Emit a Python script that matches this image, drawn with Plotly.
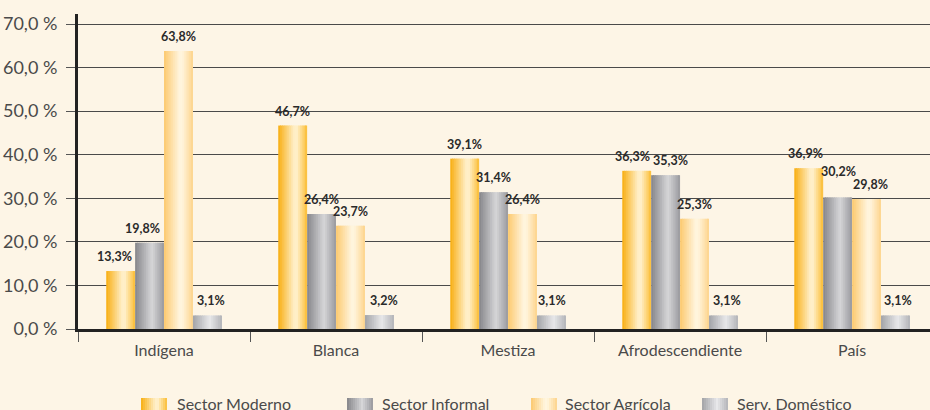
import plotly.graph_objects as go

# --- data -------------------------------------------------------------------
categorias = ["Indígena", "Blanca", "Mestiza", "Afrodescendiente", "País"]
sector_moderno = [13.3, 46.7, 39.1, 36.3, 36.9]
sector_informal = [19.8, 26.4, 31.4, 35.3, 30.2]
sector_agricola = [63.8, 23.7, 26.4, 25.3, 29.8]
serv_domestico = [3.1, 3.2, 3.1, 3.1, 3.1]
nombres_series = ["Sector Moderno", "Sector Informal", "Sector Agrícola", "Serv. Doméstico"]
y_ticks = [0, 10, 20, 30, 40, 50, 60, 70]
y_tick_text = ["0,0 %", "10,0 %", "20,0 %", "30,0 %", "40,0 %", "50,0 %", "60,0 %", "70,0 %"]

valores = [sector_moderno, sector_informal, sector_agricola, serv_domestico]

# --- styling ----------------------------------------------------------------
# horizontal gradient stops (position across the bar, colour) for each series
gradientes = [
    [(0.0, "#F8AE12"), (0.55, "#FFEFC8"), (0.65, "#FFEFC8"), (1.0, "#FBBE36")],
    [(0.0, "#86868A"), (0.58, "#D6D6D8"), (1.0, "#9A9A9E")],
    [(0.0, "#FCC96F"), (0.55, "#FFF6E0"), (0.65, "#FFF3D8"), (1.0, "#FDD48C")],
    [(0.0, "#A2A3A7"), (0.58, "#E8E8EA"), (1.0, "#B3B4B8")],
]

# small pixel nudges (dx, dy) that keep neighbouring value labels apart
ajuste_etiquetas = {
    (0, 0): (-6, 0), (1, 0): (-7, 0), (3, 0): (4, 0),
    (3, 1): (5, 0), (3, 2): (1, 0), (3, 3): (4, 0),
    (0, 3): (-4, 0), (1, 3): (5, 0), (3, 4): (3, 0),
    (0, 4): (-3, 0), (1, 4): (1, 11), (2, 4): (4, 0),
}

FONDO = "#FDF5E6"
FUENTE = "Lato"
W, H = 930, 410
M_L, M_R, M_T, M_B = 78, 0, 14, 81
X_RANGE = [-0.5, 4.453]
Y_RANGE = [0, 72.3]
ANCHO_BARRA = 0.168          # width of one bar, in category units
N_FRANJAS = 16               # slices used to paint the gradient

plot_w = W - M_L - M_R
plot_h = H - M_T - M_B
px_por_cat = plot_w / (X_RANGE[1] - X_RANGE[0])


def hex_rgb(h):
    h = h.lstrip("#")
    return tuple(int(h[i:i + 2], 16) for i in (0, 2, 4))


def color_en(stops, t):
    for (t0, c0), (t1, c1) in zip(stops, stops[1:]):
        if t0 <= t <= t1:
            f = 0 if t1 == t0 else (t - t0) / (t1 - t0)
            a, b = hex_rgb(c0), hex_rgb(c1)
            r = [round(a[i] + (b[i] - a[i]) * f) for i in range(3)]
            return "rgb({},{},{})".format(*r)
    return stops[-1][1]


def etiqueta(v):
    return f"{v:.1f}%".replace(".", ",")


fig = go.Figure()

inicio_grupo = -2 * ANCHO_BARRA
anotaciones = []

for i, (serie, stops) in enumerate(zip(valores, gradientes)):
    offset = inicio_grupo + i * ANCHO_BARRA
    franja = ANCHO_BARRA / N_FRANJAS
    for k in range(N_FRANJAS):
        t = (k + 0.5) / N_FRANJAS
        ancho = franja * (1.6 if k < N_FRANJAS - 1 else 1.0)
        fig.add_trace(go.Bar(
            x=categorias, y=serie,
            offset=offset + k * franja, width=ancho,
            marker=dict(color=color_en(stops, t), line=dict(width=0)),
            showlegend=False, hoverinfo="skip",
            name=nombres_series[i],
        ))
    centro_px = (offset + ANCHO_BARRA / 2) * px_por_cat
    for j, (c, v) in enumerate(zip(categorias, serie)):
        dx, dy = ajuste_etiquetas.get((i, j), (0, 0))
        anotaciones.append(dict(
            x=c, y=v, xref="x", yref="y", text=etiqueta(v),
            showarrow=False, xanchor="center", yanchor="bottom",
            xshift=centro_px + dx, yshift=5 + dy,
            font=dict(family=FUENTE, size=12.5, color="#2A2A2A", weight="bold"),
        ))

# --- legend drawn below the axis with gradient swatches ----------------------
def px_a_paper_x(px):
    return (px - M_L) / plot_w


def px_a_paper_y(py):
    return (H - M_B - py) / plot_h


leyenda_swatch_x = [141, 347, 531, 702]
leyenda_texto_x = [175, 380, 563, 735]
shapes = []
for i, stops in enumerate(gradientes):
    x0 = leyenda_swatch_x[i]
    n = 13
    for k in range(n):
        t = (k + 0.5) / n
        a = x0 + 26 * k / n
        b = x0 + 26 * (k + 1) / n + (0.8 if k < n - 1 else 0)
        shapes.append(dict(
            type="rect", xref="paper", yref="paper",
            x0=px_a_paper_x(a), x1=px_a_paper_x(b),
            y0=px_a_paper_y(398), y1=px_a_paper_y(412),
            fillcolor=color_en(stops, t), line=dict(width=0), layer="above",
        ))
    anotaciones.append(dict(
        x=px_a_paper_x(leyenda_texto_x[i]), y=px_a_paper_y(392),
        xref="paper", yref="paper", text=nombres_series[i],
        showarrow=False, xanchor="left", yanchor="top",
        font=dict(family=FUENTE, size=16, color="#4A4A4A"),
    ))

fig.update_layout(
    width=W, height=H, autosize=False,
    margin=dict(l=M_L, r=M_R, t=M_T, b=M_B, pad=0),
    paper_bgcolor=FONDO, plot_bgcolor=FONDO,
    barmode="overlay", showlegend=False,
    font=dict(family=FUENTE, color="#4A4A4A"),
    annotations=anotaciones, shapes=shapes,
)

fig.update_xaxes(
    type="category", range=X_RANGE,
    showgrid=False, zeroline=False,
    showline=True, linecolor="#222222", linewidth=3,
    ticks="outside", tickson="boundaries", ticklen=10,
    tickcolor="#555555", tickwidth=1,
    tickfont=dict(family=FUENTE, size=16, color="#4A4A4A"),
    ticklabelstandoff=5,
)

fig.update_yaxes(
    range=Y_RANGE, tickvals=y_ticks, ticktext=y_tick_text,
    showgrid=True, gridcolor="#4A4A4A", gridwidth=1.2,
    zeroline=False,
    showline=True, linecolor="#222222", linewidth=3,
    ticks="outside", ticklen=9, tickcolor="#555555", tickwidth=1,
    tickfont=dict(family=FUENTE, size=18, color="#4A4A4A"),
    ticklabelstandoff=5,
)

fig.write_html("out.html")
